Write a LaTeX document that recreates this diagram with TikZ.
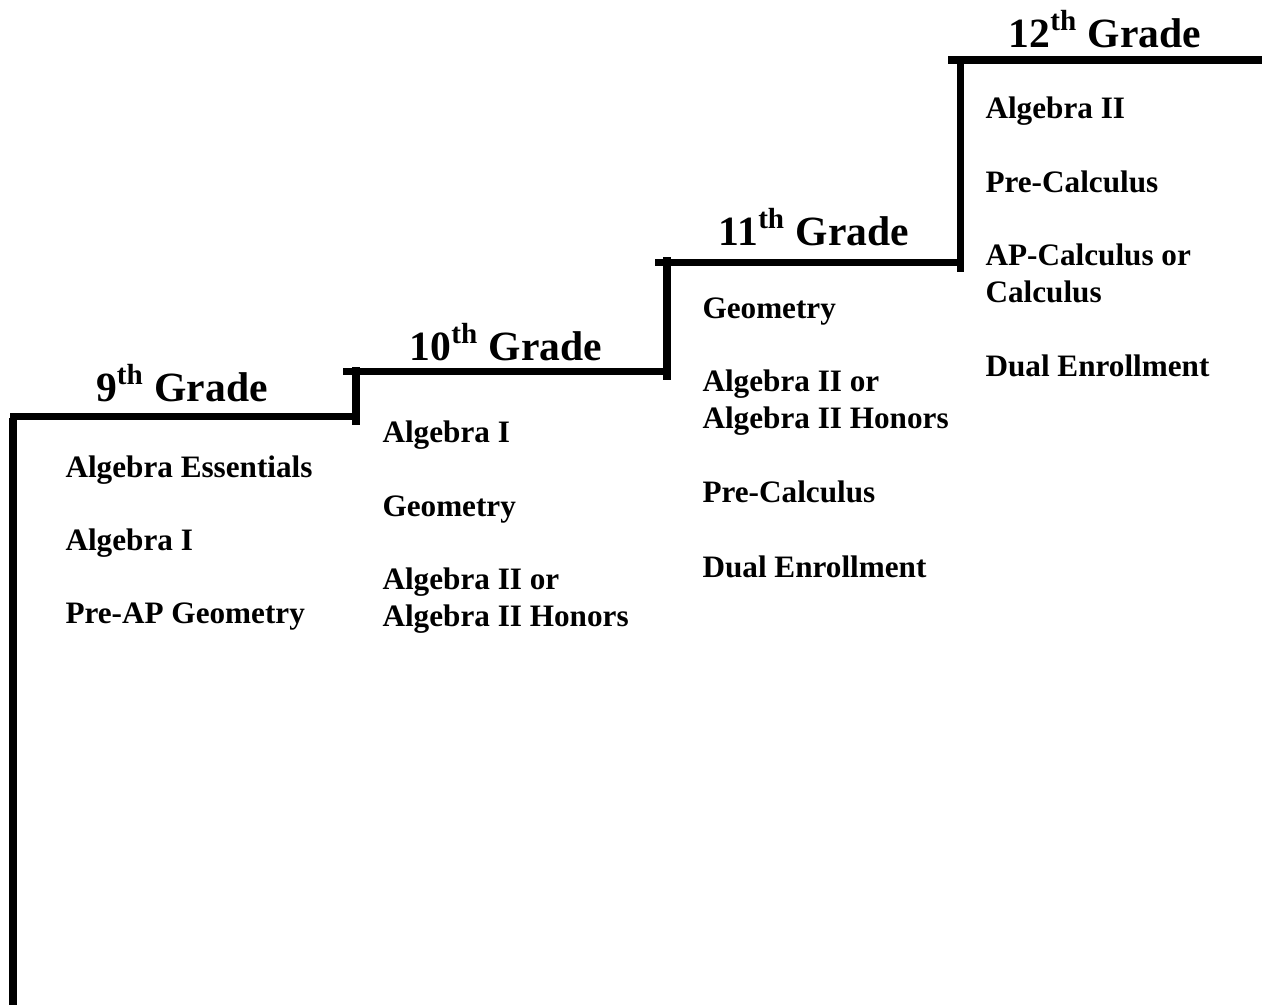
\documentclass[tikz,border=0pt]{standalone}
\usepackage{fontspec}
\setmainfont{Liberation Serif}
\begin{document}
\begin{tikzpicture}[x=0.3846pt, y=-0.3846pt,
    stair/.style={line width=2.7pt},
    grade/.style={font=\fontsize{16}{19}\selectfont\bfseries, anchor=base, inner sep=0pt},
    course/.style={font=\fontsize{12}{14.2}\selectfont\bfseries, anchor=base west, align=left, inner sep=0pt}]
  \useasboundingbox (0,0) rectangle (1262,1005);
  \coordinate (floor) at (13,1005);
  \coordinate (t9a) at (10,416);   \coordinate (t9b) at (360,416);
  \coordinate (t10a) at (343,371); \coordinate (t10b) at (670,371);
  \coordinate (t11a) at (655,262); \coordinate (t11b) at (962,262);
  \coordinate (t12a) at (948,60);  \coordinate (t12b) at (1262,60);
  \draw[stair] (13,418) -- (floor);
  \draw[stair] (t9a) -- (t9b);
  \draw[stair] (356,367) -- (356,425);
  \draw[stair] (t10a) -- (t10b);
  \draw[stair] (667,257) -- (667,380);
  \draw[stair] (t11a) -- (t11b);
  \draw[stair] (960,57) -- (960,272);
  \draw[stair] (t12a) -- (t12b);
  \node[grade] (g9) at (182,401) {9\textsuperscript{th} Grade};
  \node[grade] (g10) at (506,360) {10\textsuperscript{th} Grade};
  \node[grade] (g11) at (814,245) {11\textsuperscript{th} Grade};
  \node[grade] (g12) at (1105,47) {12\textsuperscript{th} Grade};
  \node[course] (c9a) at (65,477) {Algebra Essentials};
  \node[course] (c9b) at (65,550) {Algebra I};
  \node[course] (c9c) at (65,623) {Pre-AP Geometry};
  \node[course] (c10a) at (382,442) {Algebra I};
  \node[course] (c10b) at (382,516) {Geometry};
  \node[course] (c10c) at (382,626) {Algebra II or\\Algebra II Honors};
  \node[course] (c11a) at (702,318) {Geometry};
  \node[course] (c11b) at (702,428) {Algebra II or\\Algebra II Honors};
  \node[course] (c11c) at (702,502) {Pre-Calculus};
  \node[course] (c11d) at (702,577) {Dual Enrollment};
  \node[course] (c12a) at (985,118) {Algebra II};
  \node[course] (c12b) at (985,192) {Pre-Calculus};
  \node[course] (c12c) at (985,302) {AP-Calculus or\\Calculus};
  \node[course] (c12d) at (985,376) {Dual Enrollment};
\end{tikzpicture}
\end{document}
